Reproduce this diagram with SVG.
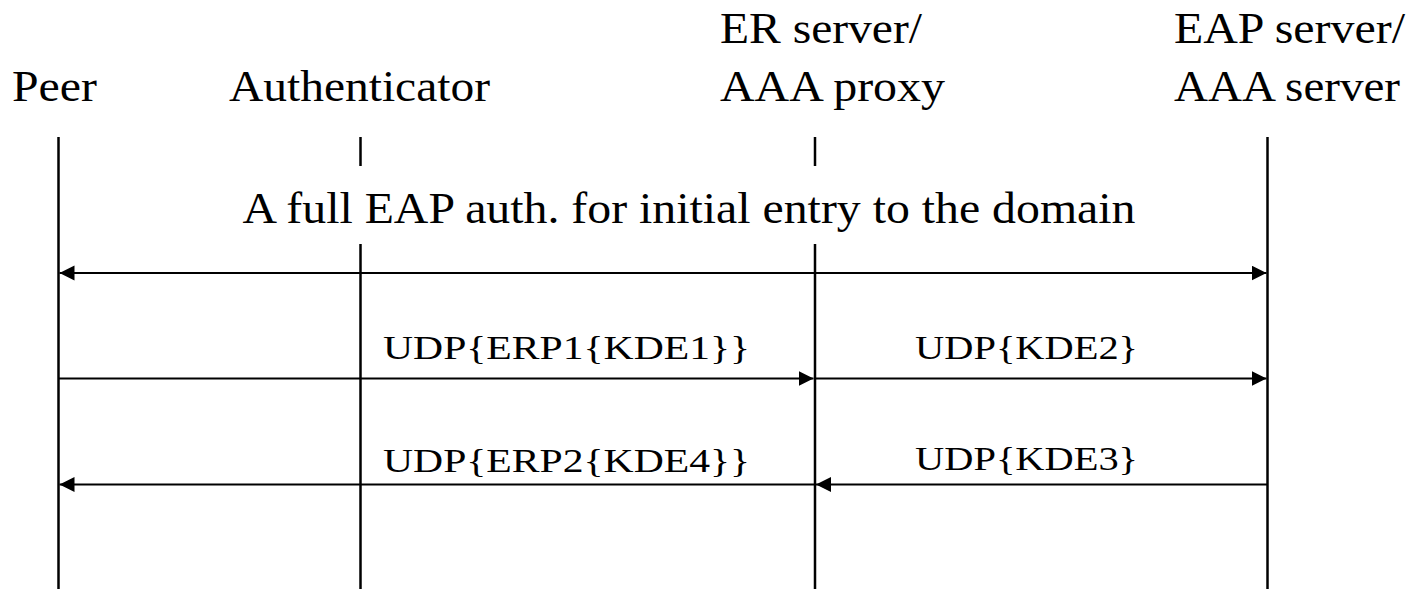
<svg xmlns="http://www.w3.org/2000/svg" width="1412" height="589" viewBox="0 0 1412 589">
  <defs>
    <style>
      .title { font-size: 44px; }
      .msg { font-size: 34px; }
      .life { stroke: #000; stroke-width: 2.5; fill: none; }
      .arrow { stroke: #000; stroke-width: 2; fill: none; }
    </style>
    <marker id="head" markerUnits="userSpaceOnUse" markerWidth="16" markerHeight="16" refX="15" refY="7.5" orient="auto-start-reverse" viewBox="0 0 16 16">
      <path d="M0,0 L15,7.5 L0,15 Z" fill="#000"/>
    </marker>
  </defs>
  <rect width="1412" height="589" fill="#fff"/>

  <g font-family="'Liberation Serif', 'Times New Roman', Times, 'DejaVu Serif', serif" fill="#000">
    <!-- participants with their lifelines -->
    <g id="peer">
      <text class="title" x="12" y="101" textLength="85" lengthAdjust="spacingAndGlyphs">Peer</text>
      <line class="life" x1="58.5" y1="137" x2="58.5" y2="589"/>
    </g>
    <g id="authenticator">
      <text class="title" x="229" y="101" textLength="261" lengthAdjust="spacingAndGlyphs">Authenticator</text>
      <line class="life" x1="360.5" y1="137" x2="360.5" y2="166"/>
      <line class="life" x1="360.5" y1="244" x2="360.5" y2="589"/>
    </g>
    <g id="er-server">
      <text class="title" x="720" y="43" textLength="202" lengthAdjust="spacingAndGlyphs">ER server/</text>
      <text class="title" x="720" y="101" textLength="225" lengthAdjust="spacingAndGlyphs">AAA proxy</text>
      <line class="life" x1="815" y1="137" x2="815" y2="166"/>
      <line class="life" x1="815" y1="244" x2="815" y2="589"/>
    </g>
    <g id="eap-server">
      <text class="title" x="1174" y="43" textLength="231" lengthAdjust="spacingAndGlyphs">EAP server/</text>
      <text class="title" x="1174" y="101" textLength="226" lengthAdjust="spacingAndGlyphs">AAA server</text>
      <line class="life" x1="1267.5" y1="137" x2="1267.5" y2="589"/>
    </g>

    <!-- message labels -->
    <g id="labels">
      <text class="title" x="242.5" y="223" textLength="893" lengthAdjust="spacingAndGlyphs">A full EAP auth. for initial entry to the domain</text>
      <text class="msg" x="383" y="359" textLength="367" lengthAdjust="spacingAndGlyphs">UDP{ERP1{KDE1}}</text>
      <text class="msg" x="915" y="359" textLength="223" lengthAdjust="spacingAndGlyphs">UDP{KDE2}</text>
      <text class="msg" x="383" y="472" textLength="367" lengthAdjust="spacingAndGlyphs">UDP{ERP2{KDE4}}</text>
      <text class="msg" x="915" y="470" textLength="223" lengthAdjust="spacingAndGlyphs">UDP{KDE3}</text>
    </g>
  </g>

  <!-- connectors -->
  <g id="connectors">
    <line class="arrow" x1="59.5" y1="273" x2="1266.5" y2="273" marker-start="url(#head)" marker-end="url(#head)"/>
    <line class="arrow" x1="58.5" y1="378.5" x2="813.5" y2="378.5" marker-end="url(#head)"/>
    <line class="arrow" x1="815" y1="378.5" x2="1266.5" y2="378.5" marker-end="url(#head)"/>
    <line class="arrow" x1="1267.5" y1="484.5" x2="816" y2="484.5" marker-end="url(#head)"/>
    <line class="arrow" x1="815" y1="484.5" x2="59.5" y2="484.5" marker-end="url(#head)"/>
  </g>
</svg>
